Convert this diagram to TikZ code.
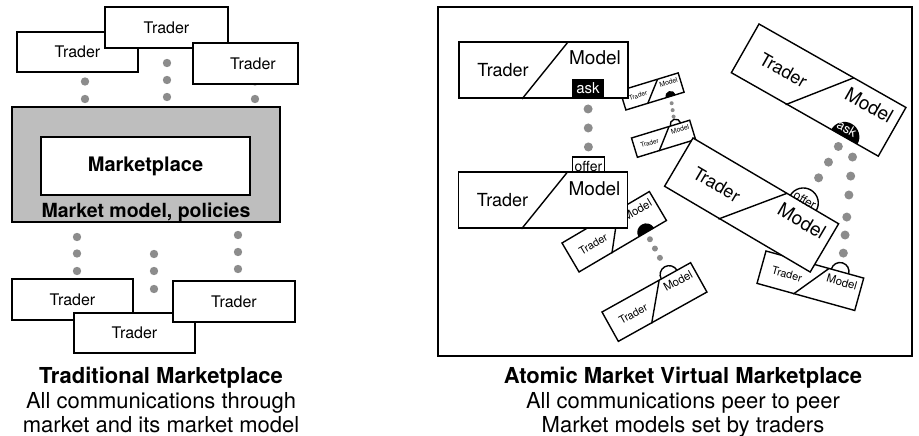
\documentclass[tikz,border=0pt]{standalone}
\usepackage{fontspec}
\setmainfont{TeX Gyre Heros}
\usetikzlibrary{calc}

\definecolor{dotgray}{RGB}{140,140,140}
\definecolor{panelgray}{RGB}{190,190,190}

\newcommand\fsz[1]{\fontsize{#1}{#1}\selectfont}

\pgfdeclarelayer{dots}
\pgfsetlayers{dots,main}

\tikzset{
  tbox/.style={draw=black, fill=white, line width=1.3pt, inner sep=0pt, font=\fsz{16}},
  uline/.style={draw=black, line width=1.4pt},
  ubox/.style={uline, fill=white},
  traderlbl/.style={anchor=base, inner sep=0pt, font=\fsz{18}},
  modellbl/.style={anchor=base, inner sep=0pt, font=\fsz{19}},
  taglbl/.style={anchor=base, inner sep=0pt},
  dotfill/.style={fill=dotgray},
  caphead/.style={anchor=base, inner sep=0pt, font=\bfseries\fsz{22}},
  capline/.style={anchor=base, inner sep=0pt, font=\fsz{22}},
}

% Trader/Model unit: #1 name, #2 top-left corner, #3 rotation, #4 scale,
% #5 drawn behind the box, #6 drawn over it
\newcommand\tmunit[6]{%
  \begin{scope}[shift={(#2)}, rotate=#3, scale=#4, transform shape]
    \def\uname{#1}%
    #5
    \draw[ubox] (0,0) rectangle (169,56);
    \draw[uline] (109,0) -- (63,57);
    \node[traderlbl] (#1-trader) at (44,34.5) {Trader};
    \node[modellbl] (#1-model) at (136,23) {Model};
    #6
  \end{scope}}

% square tabs
\newcommand\askbox{%
  \fill (113,37) rectangle (145,56);
  \node[taglbl, text=white, font=\fsz{15}] (\uname-ask) at (129,51.5) {ask};
  \coordinate (\uname-tab) at (129,56);}
\newcommand\offerbox{%
  \draw[uline, fill=white] (114,-15) rectangle (146,0);
  \node[taglbl, font=\fsz{14}] (\uname-offer) at (130,-1) {offer};
  \coordinate (\uname-tab) at (130,-15);}
% round tabs
\newcommand\darkdisk{%
  \begin{scope}
    \clip (0,0) rectangle (169,56);
    \fill (130,56) circle[radius=15];
  \end{scope}
  \coordinate (\uname-tab) at (130,56);
  \coordinate (\uname-tabr) at (141,56);}
\newcommand\asklbl{%
  \node[taglbl, text=white, font=\fsz{13}] (\uname-ask) at (128,52) {ask};}
\newcommand\opendome{%
  \begin{scope}
    \clip (100,-20) rectangle (160,0);
    \draw[uline, fill=white] (128,0) circle[radius=15];
  \end{scope}
  \coordinate (\uname-tab) at (128,-15);}
\newcommand\offerlbl{%
  \node[taglbl, font=\fsz{12}] (\uname-offer) at (128,1) {offer};}

\begin{document}
\begin{tikzpicture}[x=1pt, y=-1pt]
\useasboundingbox (0,0) rectangle (919,436);

% ---------- traditional marketplace ----------
\foreach \x/\ys in {85/{64,81.5,99}, 167/{63,80,97}, 255/{64,81.5,99},
                    77/{237,253.5,271}, 154/{254,271,289}, 238/{235,252,269}} {
  \foreach \y in \ys \fill[dotfill] (\x,\y) circle[radius=4.2];
}

\node[tbox, minimum width=121, minimum height=40] (lt1) at (77.5,52) {Trader};
\node[tbox, minimum width=123, minimum height=41] (lt2) at (166.5,27.5) {Trader};
\node[tbox, minimum width=105, minimum height=41] (lt3) at (245.5,63.5) {\hspace*{15pt}Trader};

\node[draw=black, fill=panelgray, line width=1.3pt, inner sep=0pt,
      minimum width=268, minimum height=115] (market) at (146,164.5) {};
\node[tbox, minimum width=209, minimum height=58, font=\bfseries\fsz{20}] (mplace) at (145.5,166) {Marketplace};
\node[anchor=base, inner sep=0pt, font=\bfseries\fsz{19.5}] (policies) at (146,217) {Market model, policies};

\node[tbox, minimum width=121, minimum height=41] (lb1) at (72.5,299.5) {Trader};
\node[tbox, minimum width=121, minimum height=40] (lb2) at (134.5,333) {Trader};
\node[tbox, minimum width=122, minimum height=41] (lb3) at (234,301.5) {Trader};

\node[caphead] (capl1) at (161,383.5) {Traditional Marketplace};
\node[capline] (capl2) at (161,408.5) {All communications through};
\node[capline] (capl3) at (161,432.5) {market and its market model};

% ---------- atomic market ----------
\draw[line width=2pt] (438,7.5) rectangle (911.5,355.5);

\tmunit{u5}{620,90.7}{17}{0.36}{}{\darkdisk}
\tmunit{u8}{562,243}{30.5}{0.6}{}{\darkdisk}
\tmunit{u1}{459,42}{0}{1}{}{\askbox}
\tmunit{u2}{458.5,172}{0}{1}{}{\offerbox}
\tmunit{u6}{631.5,138}{17}{0.36}{\opendome}{}
\tmunit{u3}{759,24}{-29.6}{1}{}{\darkdisk\asklbl}
\tmunit{u7}{766,251}{-15.5}{0.6}{\opendome}{}
\tmunit{u4}{693,138}{-30.5}{1}{\opendome}{\offerlbl}
\tmunit{u9}{602,312}{29.1}{0.6}{\opendome}{}

\begin{pgfonlayer}{dots}
  \foreach \t in {0.186,0.508,0.83}
    \fill[dotfill] ($(u1-tab)!\t!(u2-tab)$) circle[radius=4.5];
  \foreach \t in {0.18,0.475,0.77}
    \fill[dotfill] ($(u3-tab)!\t!(u4-tab)$) circle[radius=4.5];
  \foreach \t in {0.081,0.231,0.38,0.563,0.72,0.878}
    \fill[dotfill] ($(u7-tab)!\t!(u3-tabr)$) circle[radius=4.5];
  \foreach \t in {0.2,0.47,0.74}
    \fill[dotfill] ($(u8-tab)!\t!(u9-tab)$) circle[radius=3];
  \foreach \t in {0.3,0.6,0.88}
    \fill[dotfill] ($(u5-tab)!\t!(u6-tab)$) circle[radius=2];
\end{pgfonlayer}

\node[caphead] (capr1) at (683,383.5) {Atomic Market Virtual Marketplace};
\node[capline] (capr2) at (683,408.5) {All communications peer to peer};
\node[capline] (capr3) at (683,432.5) {Market models set by traders};
\end{tikzpicture}
\end{document}
